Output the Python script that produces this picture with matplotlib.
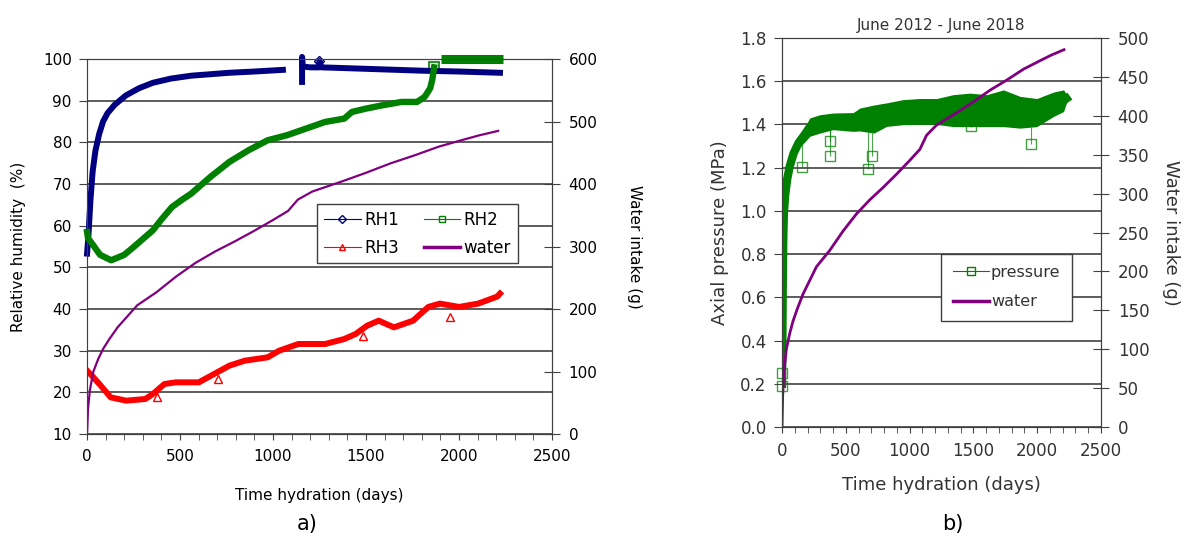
import numpy as np
import matplotlib
matplotlib.use('Agg')
import matplotlib.pyplot as plt
from matplotlib.lines import Line2D

plt.rcParams['font.family'] = ['DejaVu Sans']

# ---- a) relative humidity sensors + water intake ----
rh1_days = [0, 8, 18, 30, 45, 65, 86, 110, 148, 210, 280, 354, 450, 560, 765, 900, 1053,
            np.nan, 1156, 1156, 1160, 1200, 1249, 1249, 1260, 1400, 1600, 1800, 2000, 2220]
rh1 = [53.3, 58, 66, 73, 78, 82, 85, 87, 89, 91.3, 93, 94.3, 95.3, 96.0, 96.7, 97.0, 97.4,
       np.nan, 94.5, 100.5, 98.2, 98.0, 98.0, 99.5, 98.0, 97.8, 97.5, 97.2, 97.0, 96.7]

rh2_days = [0, 5, 30, 70, 130, 200, 251, 300, 354, 400, 457, 510, 560, 663, 765, 868, 971,
            1074, 1177, 1280, 1383, 1424, 1500, 1589, 1691, 1774, 1815, 1845, 1856, 1866,
            np.nan, 1905, 2237]
rh2 = [58.5, 57.0, 55.5, 53.0, 51.7, 53.0, 54.9, 56.8, 58.9, 61.5, 64.5, 66.2, 67.7, 71.7,
       75.3, 78.1, 80.5, 81.7, 83.3, 84.9, 85.7, 87.3, 88.1, 88.9, 89.7, 89.7, 90.9, 93.0,
       95.0, 98.0, np.nan, 100, 100]

rh3_days = [0, 30, 66, 127, 210, 313, 354, 416, 477, 601, 683, 765, 848, 971, 1033, 1136,
            1280, 1383, 1444, 1506, 1568, 1650, 1753, 1835, 1897, 2000, 2103, 2206, 2220]
rh3 = [25.2, 23.8, 22.0, 18.8, 18.0, 18.4, 19.6, 22.0, 22.4, 22.4, 24.4, 26.4, 27.6, 28.4,
       30.0, 31.6, 31.6, 32.8, 34.0, 36.0, 37.2, 35.6, 37.2, 40.5, 41.3, 40.5, 41.3, 43.0, 43.7]

# isolated readings shown as single markers
rh1_pts_days, rh1_pts = [1249], [99.5]
rh2_pts_days, rh2_pts = [1866], [98.0]
rh3_pts_days, rh3_pts = [374, 703, 1486, 1949], [18.8, 23.2, 33.6, 38.0]

# water intake (g), same test for both panels
water_days = [0, 5, 15, 34, 60, 86, 120, 165, 270, 374, 479, 584, 688, 793, 898, 1003,
              1081, 1133, 1211, 1369, 1500, 1631, 1762, 1893, 2024, 2110, 2210]
water = [0, 40, 70, 100, 120, 136, 152, 171, 206, 227, 252, 274, 292, 308, 325, 343,
         357, 375, 388, 404, 418, 433, 446, 460, 471, 478, 485]

# ---- b) axial pressure ----
p_days = [0, 3, 6, 10, 15, 25, 40, 60, 90, 130, 180, 217, 296, 400, 558, 610, 720, 820,
          950, 1081, 1212, 1343, 1474, 1605, 1736, 1866, 1997, 2128, 2207, 2230]
p_hi = [0.2, 0.45, 0.7, 0.9, 1.02, 1.1, 1.17, 1.23, 1.29, 1.34, 1.39, 1.43, 1.445, 1.453,
        1.455, 1.476, 1.49, 1.50, 1.515, 1.52, 1.52, 1.538, 1.545, 1.538, 1.56, 1.53, 1.52,
        1.55, 1.56, 1.54]
p_lo = [0.2, 0.4, 0.65, 0.85, 0.97, 1.05, 1.12, 1.18, 1.24, 1.29, 1.32, 1.345, 1.36, 1.376,
        1.368, 1.37, 1.36, 1.391, 1.399, 1.40, 1.40, 1.39, 1.39, 1.39, 1.39, 1.383, 1.39,
        1.437, 1.46, 1.50]
p_pts_days = [0, 2, 160, 380, 380, 676, 707, 1479, 1953]
p_pts = [0.19, 0.25, 1.203, 1.325, 1.256, 1.194, 1.256, 1.394, 1.309]

navy, green, red, purple = '#000080', '#008000', '#ff0000', '#800080'
txt_b = '#333333'

fig = plt.figure(figsize=(11.91, 5.6), dpi=100)


def style_axes(ax, ax2, fs, tc='black'):
    ax.grid(axis='y', color='#303030', linewidth=1.1)
    ax.set_axisbelow(True)
    ax.set_xlim(0, 2500)
    ax.set_xticks(np.arange(0, 2501, 500))
    ax.set_xticks(np.arange(0, 2501, 100), minor=True)
    ax.tick_params(axis='x', which='both', direction='out', length=4, pad=7, labelsize=fs,
                   color='#404040', labelcolor=tc)
    ax.tick_params(axis='y', direction='out', length=6, pad=5, labelsize=fs,
                   color='#404040', labelcolor=tc)
    ax2.tick_params(axis='y', direction='inout', length=12, pad=6, labelsize=fs,
                    color='#404040', labelcolor=tc)
    for a in (ax, ax2):
        for s in a.spines.values():
            s.set_color('#404040')
    ax.spines['left'].set_color('#808080')


# left panel
ax = fig.add_axes([0.0731, 0.225, 0.3904, 0.6696])
ax2 = ax.twinx()
ax.set_ylim(10, 100)
ax.set_yticks(np.arange(10, 101, 10))
ax2.set_ylim(0, 600)
ax2.set_yticks(np.arange(0, 601, 100))
style_axes(ax, ax2, 11)

ax.plot(rh1_days, rh1, color=navy, lw=4.3, clip_on=False, zorder=3)
ax.plot(rh2_days[:-3], rh2[:-3], color=green, lw=4.6, clip_on=False, zorder=3)
ax.plot(rh2_days[-2:], rh2[-2:], color=green, lw=6.5, solid_capstyle='butt',
        clip_on=False, zorder=3)
ax.plot(rh3_days, rh3, color=red, lw=4.3, zorder=3)
ax.plot(rh1_pts_days, rh1_pts, 'D', ms=5, mfc='none', mec=navy, clip_on=False)
ax.plot(rh2_pts_days, rh2_pts, 's', ms=7, mfc='none', mec=green, mew=1.2)
ax.plot(rh3_pts_days, rh3_pts, '^', ms=6, mfc='none', mec=red)
ax2.plot(water_days, water, color=purple, lw=1.6)

ax.set_xlabel('Time hydration (days)', fontsize=11, labelpad=17)
ax.set_ylabel('Relative humidity  (%)', fontsize=11, labelpad=12)
ax2.set_ylabel('Water intake (g)', fontsize=11, rotation=270, labelpad=32)

handles = [
    Line2D([], [], color=navy, lw=0.8, marker='D', ms=4, mfc='none', label='RH1'),
    Line2D([], [], color=red, lw=0.8, marker='^', ms=5, mfc='none', label='RH3'),
    Line2D([], [], color=green, lw=0.8, marker='s', ms=5, mfc='none', label='RH2'),
    Line2D([], [], color=purple, lw=2.5, label='water'),
]
leg = ax.legend(handles=handles, ncol=2, loc='upper left', bbox_to_anchor=(0.495, 0.613),
                fontsize=12, fancybox=False, edgecolor='#404040', framealpha=1,
                handlelength=2.2, handletextpad=0.2, columnspacing=1.5, labelspacing=0.6,
                borderpad=0.4, borderaxespad=0)
leg.get_frame().set_linewidth(1.0)
leg.set_zorder(5)

# right panel
bx = fig.add_axes([0.6566, 0.2375, 0.2678, 0.6946])
bx2 = bx.twinx()
bx.set_ylim(0, 1.8)
bx.set_yticks(np.arange(0, 1.81, 0.2))
bx.yaxis.set_major_formatter(plt.FormatStrFormatter('%.1f'))
bx2.set_ylim(0, 500)
bx2.set_yticks(np.arange(0, 501, 50))
style_axes(bx, bx2, 12, txt_b)
bx.spines['left'].set_color('#202020')

p_mid = (np.array(p_hi) + np.array(p_lo)) / 2
bx.fill_between(p_days, p_lo, p_hi, color=green, lw=0, zorder=3)
bx.plot(p_days, p_mid, color=green, lw=6, zorder=3)
lo_at = np.interp(p_pts_days, p_days, p_lo)
bx.vlines(p_pts_days, p_pts, lo_at, color=green, lw=0.8, alpha=0.7, zorder=3)
bx.plot(p_pts_days, p_pts, 's', ms=7, mfc='none', mec=green, mew=1.0, alpha=0.75,
        zorder=3, clip_on=False)
bx2.plot(water_days, water, color=purple, lw=2.0)

bx.set_title('June 2012 - June 2018', fontsize=11, pad=6, color=txt_b)
bx.set_xlabel('Time hydration (days)', fontsize=13, labelpad=11, color=txt_b)
bx.set_ylabel('Axial pressure (MPa)', fontsize=13, labelpad=8, color=txt_b)
bx2.set_ylabel('Water intake (g)', fontsize=13, rotation=270, labelpad=22, color=txt_b)

handles_b = [
    Line2D([], [], color=green, lw=0.8, marker='s', ms=6, mfc='none', label='pressure'),
    Line2D([], [], color=purple, lw=2.5, label='water'),
]
leg_b = bx.legend(handles=handles_b, loc='upper left', bbox_to_anchor=(0.50, 0.445),
                  fontsize=11.5, fancybox=False, edgecolor='#404040', framealpha=1,
                  handlelength=2.3, handletextpad=0.1, labelspacing=0.9,
                  borderpad=0.7, borderaxespad=0, labelcolor=txt_b)
leg_b.set_zorder(5)

fig.text(0.258, 0.064, 'a)', fontsize=15, ha='center', va='center')
fig.text(0.800, 0.064, 'b)', fontsize=15, ha='center', va='center')

fig.savefig('out.png', dpi=100)
